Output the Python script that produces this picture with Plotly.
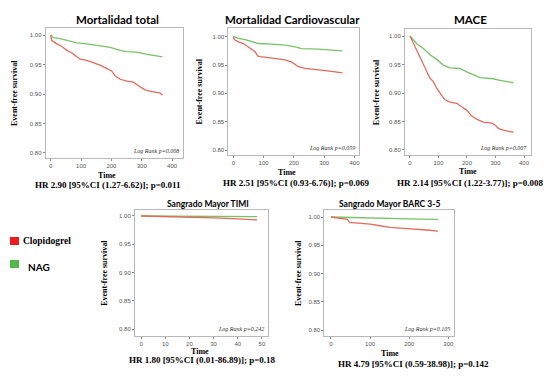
import plotly.graph_objects as go

W, H = 560, 377
OFF = 8  # page body margin of the browser

# ---------------- data ----------------
# Panel 1: Mortalidad total
mt_clop_t = [0, 3, 20, 36, 53, 69, 86, 97, 119, 141, 163, 185, 201, 212, 229, 251, 273, 295, 311, 333, 360, 368]
mt_clop_s = [1.0, 0.991, 0.985, 0.981, 0.974, 0.970, 0.963, 0.959, 0.957, 0.953, 0.949, 0.943, 0.939, 0.931, 0.925, 0.922, 0.920, 0.912, 0.907, 0.904, 0.902, 0.898]
mt_nag_t = [0, 9, 31, 53, 86, 119, 163, 196, 229, 251, 284, 316, 349, 368]
mt_nag_s = [1.0, 0.9955, 0.994, 0.991, 0.9865, 0.985, 0.982, 0.979, 0.974, 0.972, 0.971, 0.967, 0.9646, 0.963]

# Panel 2: Mortalidad Cardiovascular
mc_clop_t = [0, 3, 17, 33, 50, 61, 72, 80, 88, 116, 149, 171, 193, 204, 215, 237, 281, 325, 360]
mc_clop_s = [1.0, 0.995, 0.991, 0.988, 0.982, 0.978, 0.9735, 0.966, 0.965, 0.963, 0.9606, 0.959, 0.955, 0.951, 0.947, 0.944, 0.942, 0.939, 0.936]
mc_nag_t = [0, 17, 39, 61, 83, 127, 171, 204, 226, 281, 325, 360]
mc_nag_s = [1.0, 0.997, 0.995, 0.991, 0.988, 0.987, 0.985, 0.982, 0.979, 0.978, 0.976, 0.975]

# Panel 3: MACE
ma_clop_t = [0, 12, 23, 35, 47, 58, 70, 82, 94, 111, 123, 140, 164, 181, 199, 216, 234, 257, 287, 298, 310, 327, 363]
ma_clop_s = [1.0, 0.987, 0.975, 0.964, 0.952, 0.940, 0.926, 0.920, 0.908, 0.896, 0.888, 0.884, 0.882, 0.876, 0.870, 0.860, 0.854, 0.849, 0.847, 0.844, 0.838, 0.835, 0.831]
ma_nag_t = [0, 23, 47, 70, 94, 117, 140, 175, 199, 222, 246, 292, 316, 363]
ma_nag_s = [1.0, 0.987, 0.978, 0.967, 0.959, 0.949, 0.944, 0.943, 0.937, 0.932, 0.927, 0.925, 0.922, 0.918]

# Panel 4: Sangrado Mayor TIMI
ti_clop_t = [0, 10, 20, 30, 40, 48]
ti_clop_s = [1.0, 0.9992, 0.998, 0.9965, 0.995, 0.993]
ti_nag_t = [0, 10, 20, 30, 40, 48]
ti_nag_s = [1.0, 0.9998, 0.9995, 0.9993, 0.9991, 0.999]

# Panel 5: Sangrado Mayor BARC 3-5
ba_clop_t = [0, 31, 42, 47, 74, 100, 125, 151, 185, 219, 245, 274]
ba_clop_s = [1.0, 0.9976, 0.9958, 0.9905, 0.989, 0.9875, 0.9845, 0.9815, 0.980, 0.9786, 0.977, 0.975]
ba_nag_t = [0, 57, 142, 228, 274]
ba_nag_s = [1.0, 0.9988, 0.9976, 0.9964, 0.9958]

titles = ["Mortalidad total", "Mortalidad Cardiovascular", "MACE",
          "Sangrado Mayor TIMI", "Sangrado Mayor BARC 3-5"]
hr_texts = ["HR 2.90 [95%CI (1.27-6.62)]; p=0.011",
            "HR 2.51 [95%CI (0.93-6.76)]; p=0.069",
            "HR 2.14 [95%CI (1.22-3.77)]; p=0.008",
            "HR 1.80 [95%CI (0.01-86.89)]; p=0.18",
            "HR 4.79 [95%CI (0.59-38.98)]; p=0.142"]
logrank = ["Log Rank p=0.008", "Log Rank p=0.059", "Log Rank p=0.007",
           "Log Rank p=0.242", "Log Rank p=0.105"]
x_ticks = [[0, 100, 200, 300, 400], [0, 100, 200, 300, 400], [0, 100, 200, 300, 400],
           [0, 10, 20, 30, 40, 50], [0, 100, 200, 300]]
y_ticks = [0.80, 0.85, 0.90, 0.95, 1.00]
legend_names = ["Clopidogrel", "NAG"]

series = [
    (mt_clop_t, mt_clop_s, mt_nag_t, mt_nag_s),
    (mc_clop_t, mc_clop_s, mc_nag_t, mc_nag_s),
    (ma_clop_t, ma_clop_s, ma_nag_t, ma_nag_s),
    (ti_clop_t, ti_clop_s, ti_nag_t, ti_nag_s),
    (ba_clop_t, ba_clop_s, ba_nag_t, ba_nag_s),
]

# ---------------- layout (pixel boxes in the screenshot) ----------------
boxes = [(45.7, 28, 183, 158), (228.3, 28, 358.7, 155), (405, 29.3, 530.7, 155),
         (135, 210, 268, 335.7), (324.3, 210, 454, 336)]
xranges = [[-16.5, 436], [-16.5, 414], [-17.5, 423.5], [-2.5, 52.5], [-17.1, 314.6]]
yranges = [[0.7915, 1.0119], [0.7912, 1.0154], [0.7912, 1.0118], [0.7882, 1.0106], [0.7894, 1.0124]]
title_pos = [(117, 19, 11.5), (292, 19, 11.5), (470, 19, 11.5), (208, 204, 8.5), (389, 204, 8.5)]
ylab_x = [14, 199, 376, 105, 298]
time_pos = [(107, 175), (287, 172), (468, 171), (200, 351), (390, 353)]
hr_pos = [(108, 184.5), (296, 182.5), (470, 182.5), (202, 360), (413, 364)]

RED_LINE = "#e36a5c"
GREEN_LINE = "#79c267"
RED_SQ = "#ee1c1c"
GREEN_SQ = "#52b848"
SERIF = "Liberation Serif"

FW, FH = W - OFF, H - OFF

def px(x):
    return (x - OFF) / FW

def py(y):
    return 1 - (y - OFF) / FH

fig = go.Figure()
annotations = []
shapes = []

for i, (ct, cs, nt, ns) in enumerate(series):
    l, t, r, b = boxes[i]
    suffix = "" if i == 0 else str(i + 1)
    xa = "x" + suffix
    ya = "y" + suffix
    fig.add_trace(go.Scatter(x=nt, y=ns, mode="lines", xaxis=xa, yaxis=ya,
                             line=dict(color=GREEN_LINE, width=1.3), showlegend=False,
                             name=legend_names[1]))
    fig.add_trace(go.Scatter(x=ct, y=cs, mode="lines", xaxis=xa, yaxis=ya,
                             line=dict(color=RED_LINE, width=1.3), showlegend=False,
                             name=legend_names[0]))
    axis_common = dict(showgrid=False, zeroline=False, showline=True, mirror=True,
                       linecolor="#b8b8b8", linewidth=1, ticks="outside", ticklen=2,
                       tickcolor="#888", tickfont=dict(family="Liberation Sans", size=6, color="#555"))
    fig.update_layout(**{
        ("xaxis" + suffix): dict(domain=[px(l), px(r)], range=xranges[i], anchor=ya,
                                 tickvals=x_ticks[i], ticktext=[str(v) for v in x_ticks[i]],
                                 **axis_common),
        ("yaxis" + suffix): dict(domain=[py(b), py(t)], range=yranges[i], anchor=xa,
                                 tickvals=y_ticks, ticktext=["%.2f" % v for v in y_ticks],
                                 **axis_common),
    })
    tx, ty, tsz = title_pos[i]
    annotations.append(dict(x=px(tx), y=py(ty), xref="paper", yref="paper", text="<b>%s</b>" % titles[i],
                            showarrow=False, font=dict(family="Lato", size=tsz, color="#000"),
                            xanchor="center", yanchor="middle", borderpad=0))
    annotations.append(dict(x=px(ylab_x[i]), y=py((t + b) / 2), xref="paper", yref="paper",
                            text="<b>Event-free survival</b>", textangle=-90, showarrow=False,
                            font=dict(family=SERIF, size=8, color="#000"),
                            xanchor="center", yanchor="middle", borderpad=0))
    mx, my = time_pos[i]
    annotations.append(dict(x=px(mx), y=py(my), xref="paper", yref="paper", text="<b>Time</b>",
                            showarrow=False, font=dict(family=SERIF, size=8, color="#000"),
                            xanchor="center", yanchor="middle", borderpad=0))
    hx, hy = hr_pos[i]
    annotations.append(dict(x=px(hx), y=py(hy), xref="paper", yref="paper", text="<b>%s</b>" % hr_texts[i],
                            showarrow=False, font=dict(family=SERIF, size=9, color="#000"),
                            xanchor="center", yanchor="middle", borderpad=0))
    annotations.append(dict(x=px(r - 3), y=py(b - 7), xref="paper", yref="paper",
                            text="<i>%s</i>" % logrank[i], showarrow=False,
                            font=dict(family=SERIF, size=6, color="#333"),
                            xanchor="right", yanchor="middle", borderpad=0))

# legend (manual)
shapes.append(dict(type="rect", xref="paper", yref="paper", x0=px(10), x1=px(19), y0=py(245), y1=py(237),
                   fillcolor=RED_SQ, line=dict(width=0)))
shapes.append(dict(type="rect", xref="paper", yref="paper", x0=px(10), x1=px(19), y0=py(268), y1=py(260),
                   fillcolor=GREEN_SQ, line=dict(width=0)))
annotations.append(dict(x=px(22), y=py(241), xref="paper", yref="paper", text="<b>%s</b>" % legend_names[0],
                        showarrow=False, font=dict(family=SERIF, size=9.5, color="#000"),
                        xanchor="left", yanchor="middle", borderpad=0))
annotations.append(dict(x=px(27), y=py(267), xref="paper", yref="paper", text="<b>%s</b>" % legend_names[1],
                        showarrow=False, font=dict(family="Lato", size=10, color="#000"),
                        xanchor="left", yanchor="middle", borderpad=0))

fig.update_layout(width=FW, height=FH, margin=dict(l=0, r=0, t=0, b=0),
                  paper_bgcolor="white", plot_bgcolor="white", showlegend=False,
                  annotations=annotations, shapes=shapes)

fig.write_html("out.html")
